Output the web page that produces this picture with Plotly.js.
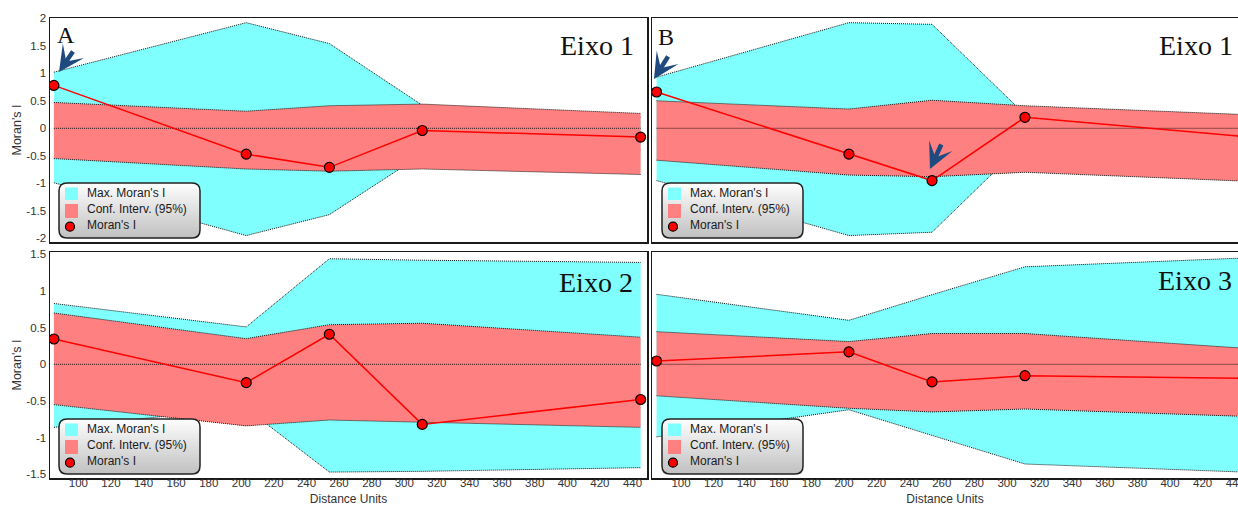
<!DOCTYPE html>
<html><head><meta charset="utf-8">
<script src="https://cdn.plot.ly/plotly-3.0.1.min.js"></script>
<style>html,body{margin:0;padding:0;background:#fff}#chart{width:1238px;height:506px}</style>
</head><body><div id="chart"></div>
<script>
// Distance classes (Distance Units)
const distances = [85, 203, 254, 311, 445];

// Panel A – Eixo 1 (top-left)
const moranA    = [0.78, -0.47, -0.71, -0.04, -0.16];
const ciUpperA  = [0.47, 0.31, 0.41, 0.44, 0.27];
const ciLowerA  = [-0.55, -0.74, -0.78, -0.74, -0.84];
const maxUpperA = [1.02, 1.92, 1.54, 0.42, 0.20];
const maxLowerA = [-0.99, -1.95, -1.57, -0.47, -0.40];

// Panel B – Eixo 1 (top-right)
const moranB    = [0.66, -0.47, -0.95, 0.20, -0.15];
const ciUpperB  = [0.50, 0.35, 0.51, 0.41, 0.25];
const ciLowerB  = [-0.58, -0.85, -0.88, -0.80, -0.96];
const maxUpperB = [0.93, 1.92, 1.89, 0.25, 0.20];
const maxLowerB = [-0.95, -1.95, -1.89, -0.25, -0.20];

// Panel C – Eixo 2 (bottom-left)
const moranC    = [0.345, -0.25, 0.41, -0.82, -0.48];
const ciUpperC  = [0.70, 0.35, 0.54, 0.56, 0.37];
const ciLowerC  = [-0.55, -0.84, -0.76, -0.79, -0.86];
const maxUpperC = [0.83, 0.51, 1.44, 1.42, 1.39];
const maxLowerC = [-0.86, -0.60, -1.47, -1.46, -1.41];

// Panel D – Eixo 3 (bottom-right)
const moranD    = [0.045, 0.17, -0.24, -0.155, -0.19];
const ciUpperD  = [0.445, 0.31, 0.42, 0.42, 0.22];
const ciLowerD  = [-0.43, -0.60, -0.65, -0.61, -0.71];
const maxUpperD = [0.955, 0.60, 0.95, 1.33, 1.45];
const maxLowerD = [-0.99, -0.62, -0.97, -1.36, -1.47];

const panelTitles = ['Eixo 1', 'Eixo 1', 'Eixo 2', 'Eixo 3'];
const panelLetters = ['A', 'B'];
const legendLabels = ["Max. Moran's I", "Conf. Interv. (95%)", "Moran's I"];
const xTickVals = [100, 120, 140, 160, 180, 200, 220, 240, 260, 280, 300, 320, 340, 360, 380, 400, 420, 440];
const yTickValsTop = [-2, -1.5, -1, -0.5, 0, 0.5, 1, 1.5, 2];
const yTickValsBottom = [-1.5, -1, -0.5, 0, 0.5, 1, 1.5];
const xTitle = 'Distance Units';
const yTitle = "Moran's I";

// ---------- geometry ----------
const W = 1238, H = 506;
const px = v => v / W;
const py = v => 1 - v / H;

const CYAN = '#80FFFF', PINK = '#FF8080', RED = '#FF0000';
const SANS = 'Liberation Sans, Arial, sans-serif';
const SERIF = 'Liberation Serif, Times New Roman, serif';

const panels = [
  {id: '', moran: moranA, ciU: ciUpperA, ciL: ciLowerA, mxU: maxUpperA, mxL: maxLowerA,
   xd: [50, 647], yd: [18, 242], xr: [82.6, 448.9], yr: [-2.067, 2.005], yt: yTickValsTop,
   left: true, bottom: false, leg: [59, 183], eixo: [636, 45]},
  {id: '2', moran: moranB, ciU: ciUpperB, ciL: ciLowerB, mxU: maxUpperB, mxL: maxLowerB,
   xd: [652, 1238], yd: [18, 242], xr: [82.2, 441.7], yr: [-2.067, 2.005], yt: yTickValsTop,
   left: false, bottom: false, leg: [662, 183], eixo: [1235, 45]},
  {id: '3', moran: moranC, ciU: ciUpperC, ciL: ciLowerC, mxU: maxUpperC, mxL: maxLowerC,
   xd: [50, 647], yd: [252, 478], xr: [82.6, 448.9], yr: [-1.551, 1.532], yt: yTickValsBottom,
   left: true, bottom: true, leg: [59, 419], eixo: [635, 282]},
  {id: '4', moran: moranD, ciU: ciUpperD, ciL: ciLowerD, mxU: maxUpperD, mxL: maxLowerD,
   xd: [652, 1238], yd: [252, 478], xr: [82.2, 441.7], yr: [-1.551, 1.532], yt: yTickValsBottom,
   left: false, bottom: true, leg: [662, 419], eixo: [1234, 280]}
];

const traces = [];
const layout = {
  width: W, height: H,
  margin: {l: 0, r: 0, t: 0, b: 0},
  paper_bgcolor: '#fff', plot_bgcolor: '#fff',
  showlegend: false,
  font: {family: SANS, size: 12, color: '#333'},
  shapes: [], annotations: []
};

const dotted = {color: '#111', width: 1, dash: '1px,1px'};
const revD = distances.slice().reverse();

panels.forEach((p, i) => {
  const xa = 'x' + p.id, ya = 'y' + p.id;
  const common = {xaxis: xa, yaxis: ya, hoverinfo: 'skip', showlegend: false};
  // Max Moran's I envelope
  traces.push(Object.assign({}, common, {
    x: distances.concat(revD), y: p.mxU.concat(p.mxL.slice().reverse()),
    mode: 'lines', fill: 'toself', fillcolor: CYAN, line: {width: 0, color: CYAN}
  }));
  traces.push(Object.assign({}, common, {x: distances, y: p.mxU, mode: 'lines', line: dotted}));
  traces.push(Object.assign({}, common, {x: distances, y: p.mxL, mode: 'lines', line: dotted}));
  // Confidence interval
  traces.push(Object.assign({}, common, {
    x: distances.concat(revD), y: p.ciU.concat(p.ciL.slice().reverse()),
    mode: 'lines', fill: 'toself', fillcolor: PINK, line: {width: 0, color: PINK}
  }));
  traces.push(Object.assign({}, common, {x: distances, y: p.ciU, mode: 'lines', line: dotted}));
  traces.push(Object.assign({}, common, {x: distances, y: p.ciL, mode: 'lines', line: dotted}));
  // zero reference
  traces.push(Object.assign({}, common, {x: distances, y: distances.map(() => 0), mode: 'lines', line: dotted}));
  // Moran's I
  traces.push(Object.assign({}, common, {
    x: distances, y: p.moran, mode: 'lines+markers',
    line: {color: RED, width: 1.5},
    marker: {color: RED, size: 10, line: {color: '#000', width: 1.2}}
  }));

  layout['xaxis' + p.id] = {
    domain: [px(p.xd[0]), px(p.xd[1])], range: p.xr, anchor: ya,
    showline: true, mirror: true, linecolor: '#1a1a1a', linewidth: 1.5,
    showgrid: false, zeroline: false, ticks: '',
    tickmode: 'array', tickvals: xTickVals, ticktext: xTickVals.map(String),
    showticklabels: p.bottom, tickfont: {family: SANS, size: 11.5, color: '#333'},
    ticklabelstandoff: -6, ticklabeloverflow: 'allow',
    title: p.bottom ? {text: xTitle, font: {family: SANS, size: 12, color: '#333'}, standoff: 11} : {text: ''}
  };
  layout['yaxis' + p.id] = {
    domain: [py(p.yd[1]), py(p.yd[0])], range: p.yr, anchor: xa,
    showline: true, mirror: p.left, linecolor: '#1a1a1a', linewidth: 1.5,
    showgrid: false, zeroline: false, ticks: '',
    tickmode: 'array', tickvals: p.yt, ticktext: p.yt.map(String),
    showticklabels: p.left, tickfont: {family: SANS, size: 11.5, color: '#333'},
    title: p.left ? {text: yTitle, font: {family: SANS, size: 12.5, color: '#333'}, standoff: 2} : {text: ''}
  };

  // panel label "Eixo n"
  layout.annotations.push({
    xref: 'paper', yref: 'paper', x: px(p.eixo[0]), y: py(p.eixo[1]),
    xanchor: 'right', yanchor: 'middle', showarrow: false,
    text: panelTitles[i], font: {family: SERIF, size: 28, color: '#111'}
  });

  // legend box (rounded, gradient)
  const bx = p.leg[0], by = p.leg[1], w = 141, h = 55, r = 8;
  for (let y = 0; y < h; y += 2) {
    const mid = y + 1;
    const d = Math.min(mid, h - mid);
    const inset = d < r ? r - Math.sqrt(Math.max(0, r * r - (r - d) * (r - d))) : 0;
    const t = mid / h;
    const c = Math.round(254 - t * 62);
    layout.shapes.push({
      type: 'rect', xref: 'paper', yref: 'paper', layer: 'above',
      x0: px(bx + inset), x1: px(bx + w - inset), y0: py(by + y), y1: py(by + Math.min(y + 2, h)),
      fillcolor: `rgb(${c},${c},${c})`, line: {width: 0}
    });
  }
  const X = v => px(v).toFixed(6), Y = v => py(v).toFixed(6);
  const path = `M${X(bx + r)},${Y(by)} L${X(bx + w - r)},${Y(by)} Q${X(bx + w)},${Y(by)} ${X(bx + w)},${Y(by + r)} ` +
    `L${X(bx + w)},${Y(by + h - r)} Q${X(bx + w)},${Y(by + h)} ${X(bx + w - r)},${Y(by + h)} ` +
    `L${X(bx + r)},${Y(by + h)} Q${X(bx)},${Y(by + h)} ${X(bx)},${Y(by + h - r)} ` +
    `L${X(bx)},${Y(by + r)} Q${X(bx)},${Y(by)} ${X(bx + r)},${Y(by)} Z`;
  layout.shapes.push({type: 'path', xref: 'paper', yref: 'paper', layer: 'above', path: path,
    line: {color: '#222', width: 1.5}});
  layout.shapes.push({type: 'rect', xref: 'paper', yref: 'paper', layer: 'above',
    x0: px(bx + 6), x1: px(bx + 19), y0: py(by + 17), y1: py(by + 4.5), fillcolor: CYAN, line: {width: 0}});
  layout.shapes.push({type: 'rect', xref: 'paper', yref: 'paper', layer: 'above',
    x0: px(bx + 6), x1: px(bx + 19), y0: py(by + 35), y1: py(by + 21), fillcolor: PINK, line: {width: 0}});
  layout.shapes.push({type: 'circle', xref: 'paper', yref: 'paper', layer: 'above',
    x0: px(bx + 6.5), x1: px(bx + 15.5), y0: py(by + 48.2), y1: py(by + 39.2),
    fillcolor: RED, line: {color: '#000', width: 1.2}});
  [9.7, 26.3, 42].forEach((dy, k) => {
    layout.annotations.push({
      xref: 'paper', yref: 'paper', x: px(bx + 26), y: py(by + dy),
      xanchor: 'left', yanchor: 'middle', showarrow: false,
      text: legendLabels[k], font: {family: SANS, size: 12, color: '#1a1a1a'}
    });
  });
});

// letters A / B
[[65.5, 35], [666, 37]].forEach((pos, k) => {
  layout.annotations.push({
    xref: 'paper', yref: 'paper', x: px(pos[0]), y: py(pos[1]),
    xanchor: 'center', yanchor: 'middle', showarrow: false,
    text: panelLetters[k], font: {family: SERIF, size: 24, color: '#111'}
  });
});

// highlight arrows
const ARROW = '#1F4A80';
[[59, 72, 15, -22], [654, 79, 15, -24], [930, 169, 12, -26]].forEach(a => {
  layout.annotations.push({
    xref: 'paper', yref: 'paper', x: px(a[0]), y: py(a[1]), ax: a[2], ay: a[3],
    text: '', showarrow: true, arrowhead: 3, arrowsize: 0.95, arrowwidth: 4.5, arrowcolor: ARROW
  });
});

Plotly.newPlot('chart', traces, layout, {staticPlot: true, displayModeBar: false});
</script>
</body></html>
